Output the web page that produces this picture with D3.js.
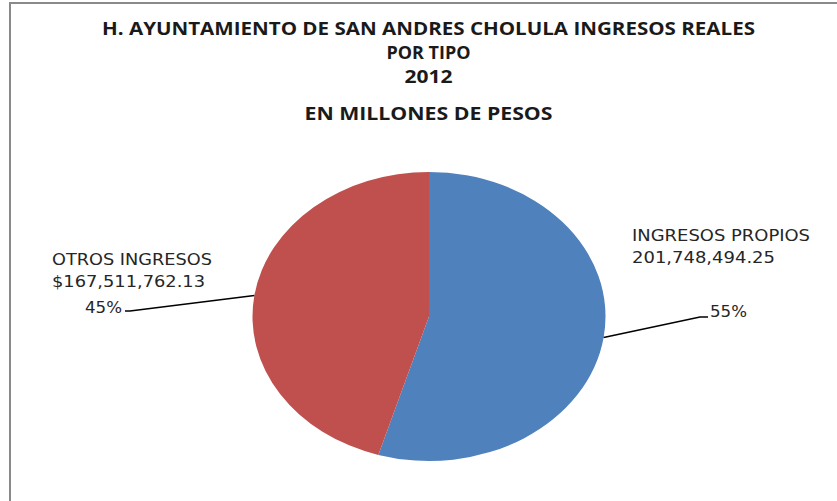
<!DOCTYPE html>
<html><head><meta charset="utf-8">
<script src="https://cdn.jsdelivr.net/npm/d3@7"></script>
<style>html,body{margin:0;padding:0;background:#fff;}svg{display:block;}</style>
</head><body>
<script>
const categories = ["INGRESOS PROPIOS", "OTROS INGRESOS"];
const amounts = [201748494.25, 167511762.13];
const amountLabels = ["201,748,494.25", "$167,511,762.13"];
const percentLabels = ["55%", "45%"];
const colors = ["#4F81BD", "#C0504D"];
const titleLines = ["H. AYUNTAMIENTO DE SAN ANDRES CHOLULA INGRESOS REALES", "POR TIPO", "2012", "EN  MILLONES DE PESOS"];

const W = 837, H = 501;
const svg = d3.select("body").append("svg").attr("width", W).attr("height", H);

// frame (only top and left edges visible)
svg.append("path").attr("d", `M10,${H} L10,3 L${W},3`)
  .attr("fill", "none").attr("stroke", "#8a8a8a").attr("stroke-width", 2);

// title
const titleY = [35, 59, 83, 120];
const titleW = [653, 84, 48, 248];
svg.selectAll("text.title").data(titleLines).join("text")
  .attr("class", "title")
  .attr("x", 428.5).attr("y", (d, i) => titleY[i])
  .attr("text-anchor", "middle")
  .attr("font-family", "'Open Sans', sans-serif")
  .attr("font-weight", "bold").attr("font-size", 17).attr("fill", "#1a1a1a")
  .attr("textLength", (d, i) => titleW[i]).attr("lengthAdjust", "spacingAndGlyphs")
  .text(d => d);

// pie (elliptical)
const cx = 429, cy = 316.5, rx = 176.5, ry = 144.5, R = 100;
const pie = d3.pie().sort(null).value(d => d)(amounts);
const arc = d3.arc().innerRadius(0).outerRadius(R);
const g = svg.append("g").attr("transform", `translate(${cx},${cy}) scale(${rx / R},${ry / R})`);
g.selectAll("path").data(pie).join("path")
  .attr("d", arc).attr("fill", (d, i) => colors[i]);

// edge anchors from mid-angles
function edge(d) {
  const a = (d.startAngle + d.endAngle) / 2;
  return [cx + rx * Math.sin(a), cy - ry * Math.cos(a)];
}

const labelFont = "'DejaVu Sans', sans-serif";
const labelCfg = [
  { x: 632, y1: 241, y2: 263, w1: 178, w2: 143, px: 710, py: 317, pw: 37, elbow: [700, 317], end: [708, 317] },
  { x: 52, y1: 265, y2: 287, w1: 160, w2: 153, px: 85, py: 313, pw: 37, elbow: [130, 311], end: [125, 311] }
];

pie.forEach((d, i) => {
  const c = labelCfg[i];
  const p = edge(d);
  svg.append("polyline")
    .attr("points", [p, c.elbow, c.end].map(q => q.join(",")).join(" "))
    .attr("fill", "none").attr("stroke", "#000").attr("stroke-width", 1.5);
  const t = svg.append("g").attr("font-family", labelFont).attr("font-size", 15).attr("fill", "#262626");
  t.append("text").attr("x", c.x).attr("y", c.y1).attr("textLength", c.w1).attr("lengthAdjust", "spacingAndGlyphs").text(categories[i]);
  t.append("text").attr("x", c.x).attr("y", c.y2).attr("textLength", c.w2).attr("lengthAdjust", "spacingAndGlyphs").text(amountLabels[i]);
  t.append("text").attr("x", c.px).attr("y", c.py).attr("textLength", c.pw).attr("lengthAdjust", "spacingAndGlyphs").text(percentLabels[i]);
});
</script>
</body></html>
